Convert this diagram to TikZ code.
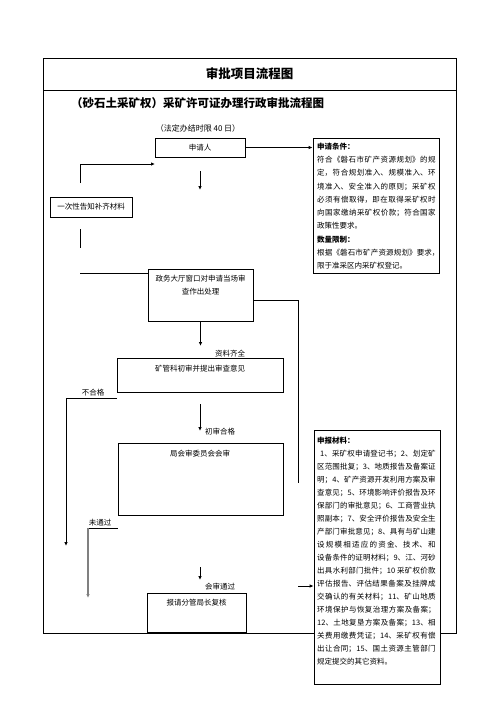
\documentclass[tikz,border=0pt]{standalone}
\usepackage{fontspec}
\setmainfont{Noto Sans CJK SC}
\usetikzlibrary{arrows.meta}
\XeTeXlinebreaklocale "zh"
\XeTeXlinebreakskip=0pt plus 1.5pt minus 0.2pt
\setlength{\parindent}{0pt}
\tolerance=10000
\begin{document}
\begin{tikzpicture}[x=1pt,y=-1pt,
  box/.style={draw, line width=0.8pt, rectangle, inner sep=0pt},
  txt/.style={font=\fontsize{7.5}{13}\selectfont, inner sep=0pt},
  lbl/.style={font=\fontsize{7.5}{9}\selectfont, inner sep=0pt},
  arr/.style={line width=0.8pt, -{Latex[length=4pt,width=3.5pt]}},
  ln/.style={line width=0.8pt}]
\useasboundingbox (0,0) rectangle (496,702);
\fill[white] (0,0) rectangle (496,702);
% frame
\draw[line width=1pt] (43,58) rectangle (456,633);
\draw[line width=1pt] (43,90) -- (456,90);
\node[inner sep=0pt, font=\bfseries\fontsize{12.5}{14}\selectfont] (title) at (249.5,74) {审批项目流程图};
\node[inner sep=0pt, anchor=west, font=\bfseries\fontsize{11.5}{13}\selectfont] (sub) at (71,103) {（砂石土采矿权）采矿许可证办理行政审批流程图};
\node[inner sep=0pt, font=\fontsize{8}{9}\selectfont] (limit) at (198,128) {（法定办结时限 40 日）};
% boxes
\node[box, txt, minimum width=90pt, minimum height=19pt] (app) at (200,147.5) {申请人};
\node[box, txt, minimum width=82pt, minimum height=20pt] (once) at (91,207) {一次性告知补齐材料};
\node[box, minimum width=105pt, minimum height=52pt] (gov) at (200.5,295) {};
\node[txt, align=center] (govt) at (200.5,285.5) {政务大厅窗口对申请当场审\\查作出处理};
\node[box, minimum width=166pt, minimum height=34pt] (mine) at (200,375) {};
\node[txt] (minet) at (200,369) {矿管科初审并提出审查意见};
\node[box, minimum width=165pt, minimum height=72pt] (council) at (200.5,479) {};
\node[txt] (councilt) at (200,454) {局会审委员会会审};
\node[box, minimum width=99pt, minimum height=39pt] (report) at (196.5,612.5) {};
\node[txt] (reportt) at (196.5,603) {报请分管局长复核};
% conditions box
\node[box, fill=white, minimum width=126pt, minimum height=135pt] (cond) at (376,205.5) {};
\node[txt, font=\fontsize{7.5}{13.3}\selectfont, anchor=north west, text width=118.5pt, align=justify] (condt) at (317,142.5) {%
\textbf{申请条件：}\par
符合《磐石市矿产资源规划》的规\linebreak
定，符合规划准入、规模准入、环\linebreak
境准入、安全准入的原则；采矿权\linebreak
必须有偿取得，即在取得采矿权时\linebreak
向国家缴纳采矿权价款；符合国家\linebreak
政策性要求。\par
\textbf{数量限制：}\par
根据《磐石市矿产资源规划》要求\makebox[0.5em][l]{，}\linebreak
限于准采区内采矿权登记。};
% materials box
\node[box, fill=white, minimum width=126pt, minimum height=254pt] (mat) at (377,557) {};
\node[txt, font=\fontsize{7.5}{13}\selectfont, anchor=north west, text width=118.5pt, align=justify] (matt) at (317,436.5) {%
\textbf{申报材料：}\par
\hspace*{3pt}1、采矿权申请登记书；2、划定矿\linebreak
区范围批复；3、地质报告及备案证\linebreak
明；4、矿产资源开发利用方案及审\linebreak
查意见；5、环境影响评价报告及环\linebreak
保部门的审批意见；6、工商营业执\linebreak
照副本；7、安全评价报告及安全生\linebreak
产部门审批意见；8、具有与矿山建\linebreak
设规模相适应的资金、技术、和\linebreak
设备条件的证明材料；9、江、河砂\linebreak
出具水利部门批件；10 采矿权价款\linebreak
评估报告、评估结果备案及挂牌成\linebreak
交确认的有关材料；11、矿山地质\linebreak
环境保护与恢复治理方案及备案；\linebreak
12、土地复垦方案及备案；13、相\linebreak
关费用缴费凭证；14、采矿权有偿\linebreak
出让合同；15、国土资源主管部门\linebreak
规定提交的其它资料。};
% labels
\node[lbl] (l1) at (230,354) {资料齐全};
\node[lbl] (l2) at (93,393) {不合格};
\node[lbl] (l3) at (220,432) {初审合格};
\node[lbl] (l4) at (100,523) {未通过};
\node[lbl] (l5) at (220,587) {会审通过};
% connectors
\draw[arr] (app.east) -- (app.east -| cond.west);
\coordinate (o1) at (80,183);
\coordinate (o2) at (155,164);
\draw[arr] (o1) |- (o2);
\coordinate (a1) at (200,171);
\coordinate (a2) at (200,190);
\draw[arr] (a1) -- (a2);
\coordinate (s1) at (80,229);
\coordinate (s2) at (80,248);
\draw[ln] (s1) -- (s2);
\coordinate (g1) at (80,273);
\draw[ln] (gov.west |- g1) -- (g1);
\coordinate (g0) at (253,300);
\coordinate (g2) at (298,483);
\draw[ln] (gov.east |- g0) -| (g2);
\coordinate (g3) at (200.5,346);
\draw[arr] (gov.south) -- (g3);
\coordinate (m0) at (118,398);
\coordinate (m1) at (66,546);
\draw[arr] (mine.west |- m0) -| (m1);
\coordinate (m2) at (200,404);
\coordinate (m3) at (200,431);
\draw[arr] (m2) -- (m3);
\coordinate (c1) at (88,528);
\coordinate (c2) at (88,598);
\draw[ln] (council.west |- c1) -- (c1);
\draw[line width=1.6pt, draw=gray, -{Latex[length=4pt,width=3.5pt]}] (c1) -- (c2);
\coordinate (c3) at (200,567);
\coordinate (c4) at (200,580);
\draw[arr] (c3) -- (c4);
\coordinate (r1) at (298,586);
\draw[arr] (r1) -- (r1 -| mat.west);
\end{tikzpicture}
\end{document}
